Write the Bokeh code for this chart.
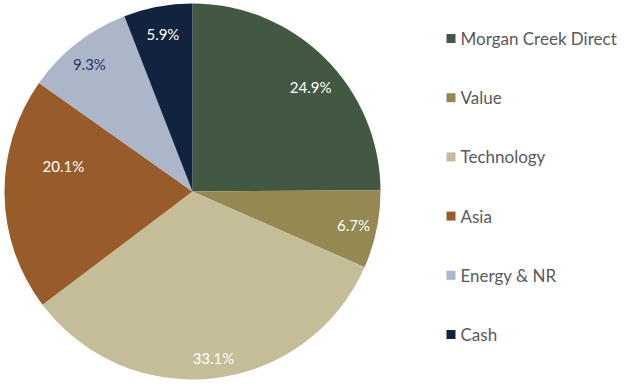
import math
from bokeh.plotting import figure
from bokeh.models import ColumnDataSource
from bokeh.core.properties import value
from bokeh.embed import file_html
from bokeh.resources import INLINE

categories = ["Morgan Creek Direct", "Value", "Technology", "Asia", "Energy & NR", "Cash"]
shares = [24.9, 6.7, 33.1, 20.1, 9.3, 5.9]
labels = ["24.9%", "6.7%", "33.1%", "20.1%", "9.3%", "5.9%"]
colors = ["#435842", "#958853", "#C4BD97", "#985C2B", "#ABB6C9", "#11233F"]
label_colors = ["#FFFFFF", "#FFFFFF", "#FFFFFF", "#FFFFFF", "#1F3864", "#FFFFFF"]

# label placement (fraction of radius, angular nudge in degrees, clockwise)
label_rfrac = [0.837, 0.875, 0.895, 0.70, 0.872, 0.854]
label_nudge = [3.8, 0.0, -0.5, 11.9, -1.0, 0.0]

W, H = 640, 389
OFF = 8
cx, cy, R = 192 + OFF, H - (191 + OFF), 188

total = sum(shares)
starts, ends, lx, ly = [], [], [], []
cum = 0.0
for s, rf, nd in zip(shares, label_rfrac, label_nudge):
    a0 = math.pi / 2 - 2 * math.pi * cum / total
    cum += s
    a1 = math.pi / 2 - 2 * math.pi * cum / total
    starts.append(a0)
    ends.append(a1)
    mid = (a0 + a1) / 2 - math.radians(nd)
    lx.append(cx + rf * R * math.cos(mid))
    ly.append(cy + rf * R * math.sin(mid))

src = ColumnDataSource(dict(start=starts, end=ends, color=colors, lx=lx, ly=ly,
                            label=labels, lcolor=label_colors))

p = figure(width=W, height=H, x_range=(0, W), y_range=(0, H),
           output_backend="svg", toolbar_location=None, min_border=0)
p.axis.visible = False
p.grid.visible = False
p.outline_line_color = None
p.background_fill_color = "white"
p.styles = {"margin-left": "-8px", "margin-top": "-8px"}

p.wedge(x=cx, y=cy, radius=R, start_angle="start", end_angle="end", direction="clock",
        fill_color="color", line_color=None, source=src)
p.text(x="lx", y="ly", text="label", text_color="lcolor", text_align="center",
       text_baseline="middle", text_font=value("Lato"), text_font_size="15px", source=src)

# legend
leg_x = 450.5 + OFF
leg_y = [H - (38 + OFF + i * 59.2) for i in range(len(categories))]
lsrc = ColumnDataSource(dict(x=[leg_x] * len(categories), y=leg_y, color=colors,
                             tx=[leg_x + 9.5] * len(categories), name=categories))
p.scatter(x="x", y="y", marker="square", size=9, fill_color="color", line_color=None, source=lsrc)
p.text(x="tx", y="y", text="name", text_color="#595959", text_align="left",
       text_baseline="middle", text_font=value("Lato"), text_font_size="17px", source=lsrc)

open("out.html", "w").write(file_html(p, INLINE))
